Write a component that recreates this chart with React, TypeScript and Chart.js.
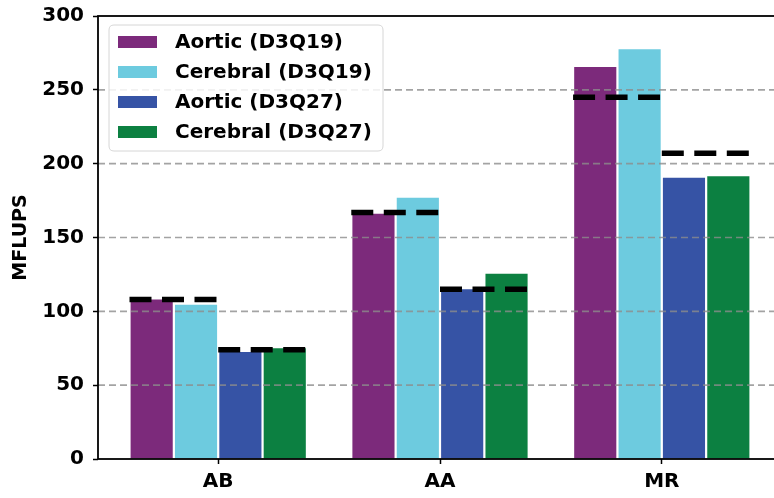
import React, { useEffect, useRef } from "react";
import { Chart, registerables } from "chart.js";

Chart.register(...registerables);

const categories = ["AB", "AA", "MR"];
const seriesLabels = ["Aortic (D3Q19)", "Cerebral (D3Q19)", "Aortic (D3Q27)", "Cerebral (D3Q27)"];
const aorticD3Q19 = [108, 166, 265.5];
const cerebralD3Q19 = [104.5, 177, 277.5];
const aorticD3Q27 = [72.5, 115, 190.5];
const cerebralD3Q27 = [75, 125.5, 191.5];
const refD3Q19 = [108, 167, 245];
const refD3Q27 = [74, 115, 207];
const yTickValues = [0, 50, 100, 150, 200, 250, 300];
const seriesColors = ["#7c2a7b", "#6dcbdf", "#3653a5", "#0c8041"];

const FONT = "'DejaVu Sans', sans-serif";

const overlayPlugin = {
  id: "overlay",
  afterDatasetsDraw(chart: any) {
    const { ctx, chartArea: a, scales } = chart;
    const y = scales.y;
    ctx.save();
    ctx.strokeStyle = "rgba(140,140,140,0.8)";
    ctx.lineWidth = 1.6;
    ctx.setLineDash([7, 4]);
    for (const v of yTickValues) {
      if (v <= 0 || v >= 300) continue;
      const py = y.getPixelForValue(v);
      ctx.beginPath();
      ctx.moveTo(a.left, py);
      ctx.lineTo(a.right, py);
      ctx.stroke();
    }
    ctx.restore();
  },
  afterDraw(chart: any) {
    const { ctx, chartArea: a } = chart;
    ctx.save();
    ctx.strokeStyle = "#000";
    ctx.lineWidth = 1.8;
    ctx.setLineDash([]);
    ctx.strokeRect(a.left, a.top, a.right - a.left, a.bottom - a.top);
    const bx = 109, by = 25, bw = 274, bh = 126, r = 5;
    ctx.beginPath();
    ctx.moveTo(bx + r, by);
    ctx.lineTo(bx + bw - r, by);
    ctx.quadraticCurveTo(bx + bw, by, bx + bw, by + r);
    ctx.lineTo(bx + bw, by + bh - r);
    ctx.quadraticCurveTo(bx + bw, by + bh, bx + bw - r, by + bh);
    ctx.lineTo(bx + r, by + bh);
    ctx.quadraticCurveTo(bx, by + bh, bx, by + bh - r);
    ctx.lineTo(bx, by + r);
    ctx.quadraticCurveTo(bx, by, bx + r, by);
    ctx.closePath();
    ctx.fillStyle = "rgba(255,255,255,0.85)";
    ctx.fill();
    ctx.strokeStyle = "#d6d6d6";
    ctx.lineWidth = 1;
    ctx.stroke();
    const bars = chart.data.datasets.filter((d: any) => d.type === "bar");
    ctx.font = `bold 20px ${FONT}`;
    ctx.textBaseline = "middle";
    ctx.textAlign = "left";
    bars.forEach((d: any, i: number) => {
      const cy = 42 + 30 * i;
      ctx.fillStyle = d.backgroundColor;
      ctx.fillRect(118, cy - 6, 39, 12);
      ctx.fillStyle = "#000";
      ctx.fillText(d.label, 175, cy + 1);
    });
    ctx.restore();
  },
};

export default function App() {
  const ref = useRef<HTMLCanvasElement | null>(null);
  useEffect(() => {
    if (!ref.current) return;
    const barValues = [aorticD3Q19, cerebralD3Q19, aorticD3Q27, cerebralD3Q27];
    const barDatasets = barValues.map((vals, k) => ({
      type: "bar" as const,
      label: seriesLabels[k],
      data: vals.map((v, i) => ({ x: i, y: v })),
      backgroundColor: seriesColors[k],
      borderWidth: 0,
      barPercentage: 0.95,
      categoryPercentage: 0.8,
      order: 2,
    }));
    const lineDatasets: any[] = [];
    const lineStyle = {
      borderColor: "#000",
      borderWidth: 5.5,
      borderDash: [22, 10.5],
      borderCapStyle: "butt",
      pointRadius: 0,
      fill: false,
      order: 1,
    };
    categories.forEach((_, i) => {
      lineDatasets.push({
        type: "line",
        label: "ref19",
        data: [
          { x: i - 0.4, y: refD3Q19[i] },
          { x: i, y: refD3Q19[i] },
        ],
        ...lineStyle,
      });
      lineDatasets.push({
        type: "line",
        label: "ref27",
        data: [
          { x: i, y: refD3Q27[i] },
          { x: i + 0.4, y: refD3Q27[i] },
        ],
        ...lineStyle,
      });
    });
    const chart = new Chart(ref.current, {
      data: { datasets: [...barDatasets, ...lineDatasets] } as any,
      options: {
        animation: false,
        responsive: false,
        devicePixelRatio: 1,
        layout: { padding: { left: 0, top: 16, right: 8, bottom: 0 } },
        plugins: { legend: { display: false }, tooltip: { enabled: false } },
        scales: {
          x: {
            type: "linear",
            min: -0.542,
            max: 2.542,
            offset: false,
            afterBuildTicks: (s: any) => {
              s.ticks = categories.map((_, i) => ({ value: i }));
            },
            afterFit: (s: any) => {
              s.height = 39;
            },
            ticks: {
              callback: (v: any) => categories[v] ?? "",
              color: "#000",
              font: { family: FONT, size: 20, weight: "bold" },
              padding: 6,
              maxRotation: 0,
              autoSkip: false,
            },
            grid: {
              display: true,
              offset: false,
              drawOnChartArea: false,
              drawTicks: true,
              tickLength: 5,
              tickColor: "#000",
              tickWidth: 1.5,
            },
            border: { display: false },
          },
          y: {
            type: "linear",
            min: 0,
            max: 300,
            afterBuildTicks: (s: any) => {
              s.ticks = yTickValues.map((v) => ({ value: v }));
            },
            afterFit: (s: any) => {
              s.width = 98;
              s.paddingTop = 0;
              s.paddingBottom = 0;
            },
            ticks: {
              color: "#000",
              font: { family: FONT, size: 20, weight: "bold", lineHeight: 1 },
              padding: 9,
            },
            grid: {
              display: true,
              drawOnChartArea: false,
              drawTicks: true,
              tickLength: 5,
              tickColor: "#000",
              tickWidth: 1.5,
            },
            border: { display: false },
            title: {
              display: true,
              text: "MFLUPS",
              color: "#000",
              font: { family: FONT, size: 19, weight: "bold" },
              padding: { top: 10, bottom: 0 },
            },
          },
        },
      },
      plugins: [overlayPlugin],
    } as any);
    return () => chart.destroy();
  }, []);
  return (
    <div style={{ position: "fixed", left: 0, top: 0, width: 774, height: 498, overflow: "hidden", background: "#fff" }}>
      <canvas ref={ref} width={790} height={498} style={{ display: "block", width: 790, height: 498 }} />
    </div>
  );
}
